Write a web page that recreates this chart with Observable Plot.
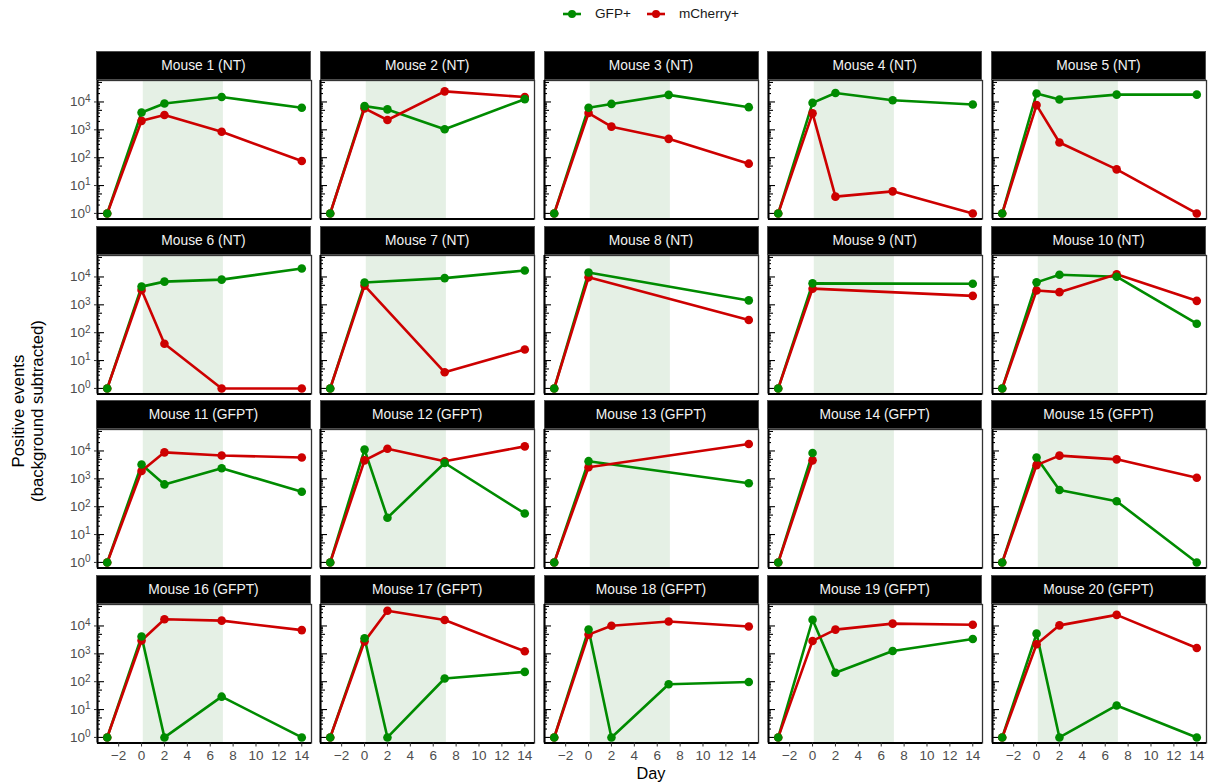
<!DOCTYPE html>
<html><head><meta charset="utf-8">
<script src="https://cdn.jsdelivr.net/npm/d3@7"></script>
<script src="https://cdn.jsdelivr.net/npm/@observablehq/plot@0.6"></script>
<style>
body{margin:0;background:#fff;font-family:"Liberation Sans",Arial,sans-serif;}
#root{position:relative;width:1208px;height:783px;overflow:hidden;background:#fff;}
.strip{position:absolute;background:#000;color:#f2f2f2;font-size:13.8px;display:flex;align-items:center;justify-content:center;box-sizing:border-box;border:1px solid #4d4d4d;}
.panel{position:absolute;}
.legend{position:absolute;top:6px;left:651px;transform:translateX(-50%);display:flex;align-items:center;font-size:13.6px;color:#1a1a1a;white-space:nowrap;}
.legend .item{display:flex;align-items:center;margin:0 8px;}
.legend svg{margin-right:14px;}
.ytitle{position:absolute;left:28px;top:411px;transform:translate(-50%,-50%) rotate(-90deg);font-size:16.8px;color:#000;text-align:center;line-height:19px;white-space:nowrap;}
.xtitle{position:absolute;left:651px;top:764px;transform:translateX(-50%);font-size:16.3px;color:#000;}
</style></head><body><div id="root"></div>
<script>
const days = [-3, 0, 2, 7, 14];
const mice = ["Mouse 1 (NT)","Mouse 2 (NT)","Mouse 3 (NT)","Mouse 4 (NT)","Mouse 5 (NT)",
  "Mouse 6 (NT)","Mouse 7 (NT)","Mouse 8 (NT)","Mouse 9 (NT)","Mouse 10 (NT)",
  "Mouse 11 (GFPT)","Mouse 12 (GFPT)","Mouse 13 (GFPT)","Mouse 14 (GFPT)","Mouse 15 (GFPT)",
  "Mouse 16 (GFPT)","Mouse 17 (GFPT)","Mouse 18 (GFPT)","Mouse 19 (GFPT)","Mouse 20 (GFPT)"];
const gfp = [
  [1, 4200, 8800, 15000, 6200],
  [1, 7100, 5400, 1050, 12600],
  [1, 6200, 8500, 18000, 6500],
  [1, 9300, 21000, 11500, 8100],
  [1, 20000, 12200, 18300, 18300],
  [1, 4500, 6800, 8000, 20000],
  [1, 6300, null, 9100, 17000],
  [1, 14500, null, null, 1440],
  [1, 5900, null, null, 5700],
  [1, 6400, 12000, 10200, 210],
  [1, 3250, 630, 2400, 345],
  [1, 11200, 40, 3700, 57],
  [1, 4300, null, null, 690],
  [1, 8400, null, null, null],
  [1, 5800, 395, 157, 1],
  [1, 4200, 1, 29, 1],
  [1, 3600, 1, 130, 225],
  [1, 7400, 1, 81, 98],
  [1, 16700, 210, 1270, 3400],
  [1, 5300, 1, 14, 1]
];
const mcherry = [
  [1, 2100, 3400, 850, 76],
  [1, 5900, 2250, 24000, 15000],
  [1, 4000, 1300, 475, 61],
  [1, 3900, 4.0, 6.2, 1],
  [1, 7700, 350, 38, 1],
  [1, 3400, 40, 1, 1],
  [1, 4900, null, 3.8, 25],
  [1, 9700, null, null, 285],
  [1, 3800, null, null, 2100],
  [1, 3250, 2850, 12400, 1390],
  [1, 1900, 8900, 6900, 5800],
  [1, 4600, 12000, 4250, 14600],
  [1, 2600, null, null, 17700],
  [1, 4600, null, null, null],
  [1, 3100, 6800, 5000, 1090],
  [1, 3000, 17300, 15500, 7100],
  [1, 2800, 35000, 16300, 1230],
  [1, 4900, 10200, 14500, 9600],
  [1, 2900, 7400, 12100, 11000],
  [1, 2200, 10500, 25000, 1620]
];
const seriesNames = ["GFP+", "mCherry+"];
const seriesColors = ["#008b00", "#cd0000"];
const xTicks = [-2, 0, 2, 4, 6, 8, 10, 12, 14];
const yTicks = [1, 10, 100, 1000, 10000];
const treatmentWindow = [0.15, 7.15];
const xDomain = [-3.85, 14.85];
const yDomain = [Math.pow(10, -0.2), Math.pow(10, 4.77)];

const root = document.getElementById("root");

// legend
const legend = document.createElement("div");
legend.className = "legend";
seriesNames.forEach((name, i) => {
  const item = document.createElement("div");
  item.className = "item";
  item.innerHTML = `<svg width="18" height="12"><line x1="0" y1="6" x2="18" y2="6" stroke="${seriesColors[i]}" stroke-width="2.6"/><circle cx="9" cy="6" r="4" fill="${seriesColors[i]}"/></svg><span>${name}</span>`;
  legend.appendChild(item);
});
root.appendChild(legend);

// log tick positions
const majors = [], mids = [], minors = [];
for (let k = 0; k <= 4; k++) {
  for (let m = 1; m <= 9; m++) {
    const v = m * Math.pow(10, k);
    if (v > yDomain[1]) continue;
    if (m === 1) majors.push(v); else if (m === 5) mids.push(v); else minors.push(v);
  }
}

const ML = 45, MR = 5, MT = 2, MB = 28, PW = 214, PH = 138.5;
const tickColor = "#4d4d4d";

mice.forEach((name, i) => {
  const r = Math.floor(i / 5), c = i % 5;
  const plotLeft = 96.5 + 223.75 * c;
  const plotTop = 80 + 174.67 * r;
  const rows = [];
  seriesNames.forEach((s, si) => {
    const vals = si === 0 ? gfp[i] : mcherry[i];
    days.forEach((d, j) => { if (vals[j] != null) rows.push({series: s, day: d, value: vals[j]}); });
  });
  const firstCol = c === 0, lastRow = r === 3;
  const lineMarks = seriesNames.map((s, si) => Plot.line(rows.filter(d => d.series === s), {x: "day", y: "value", stroke: seriesColors[si], strokeWidth: 2.6}));
  const dotMarks = [1, 0].map(si => Plot.dot(rows.filter(d => d.series === seriesNames[si]), {x: "day", y: "value", fill: seriesColors[si], r: 4.3}));
  const axisMarks = [];
  if (lastRow) axisMarks.push(Plot.axisX({ticks: xTicks, tickSize: 4, tickPadding: 3, label: null, fontSize: 13.5, color: tickColor, stroke: "#333",
      tickFormat: d => d < 0 ? "\u2212" + Math.abs(d) : String(d)}));
  if (firstCol) axisMarks.push(Plot.axisY({ticks: yTicks, tickSize: 3, tickPadding: 4, label: null, fontSize: 13.5, color: tickColor, stroke: "#333",
      tickFormat: d => String(Math.round(Math.log10(d)))}));
  const chart = Plot.plot({
    width: ML + PW + MR, height: MT + PH + MB,
    marginLeft: ML, marginRight: MR, marginTop: MT, marginBottom: MB,
    style: {background: "transparent", overflow: "visible", fontFamily: "Liberation Sans, Arial, sans-serif"},
    x: {domain: xDomain, axis: lastRow ? undefined : null},
    y: {type: "log", domain: yDomain, axis: firstCol ? undefined : null},
    marks: [
      Plot.rect([treatmentWindow], {x1: d => d[0], x2: d => d[1], fill: "#e5f0e5"}),
      Plot.ruleY(majors, {stroke: "#000", strokeWidth: 1.1, insetRight: PW - 7}),
      Plot.ruleY(mids, {stroke: "#000", strokeWidth: 1.1, insetRight: PW - 5}),
      Plot.ruleY(minors, {stroke: "#000", strokeWidth: 1.1, insetRight: PW - 3}),
      ...lineMarks,
      ...dotMarks,
      Plot.frame({stroke: "#333", strokeWidth: 1.3}),
      Plot.ruleX([xDomain[0]], {stroke: "#000", strokeWidth: 2}),
      Plot.ruleY([yDomain[0]], {stroke: "#000", strokeWidth: 2}),
      ...axisMarks
    ]
  });
  // tick label font size, and superscript exponents on the y tick labels
  chart.querySelectorAll('[aria-label="x-axis tick label"] text').forEach(t => {
    t.style.fontSize = "13.5px";
    t.style.fill = tickColor;
  });
  chart.querySelectorAll('[aria-label="y-axis tick label"] text').forEach(t => {
    const e = t.textContent;
    t.style.fontSize = "13.5px";
    t.style.fill = tickColor;
    t.textContent = "10";
    const ts = document.createElementNS("http://www.w3.org/2000/svg", "tspan");
    ts.setAttribute("dy", "-0.45em");
    ts.style.fontSize = "10px";
    ts.textContent = e;
    t.appendChild(ts);
  });
  chart.classList.add("panel");
  chart.style.left = (plotLeft - ML) + "px";
  chart.style.top = (plotTop - MT) + "px";
  chart.style.position = "absolute";
  root.appendChild(chart);

  const strip = document.createElement("div");
  strip.className = "strip";
  strip.style.left = (plotLeft - 0.5) + "px";
  strip.style.top = (plotTop - 29) + "px";
  strip.style.width = (PW + 1) + "px";
  strip.style.height = "29px";
  strip.textContent = name;
  root.appendChild(strip);
});

const yt = document.createElement("div");
yt.className = "ytitle";
yt.innerHTML = "Positive events<br>(background subtracted)";
root.appendChild(yt);
const xt = document.createElement("div");
xt.className = "xtitle";
xt.textContent = "Day";
root.appendChild(xt);
</script>
</body></html>
